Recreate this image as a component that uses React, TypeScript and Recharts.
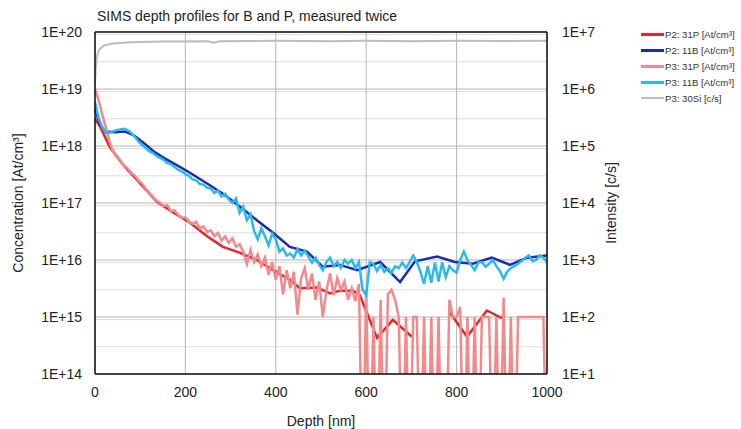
import React from 'react';
import { LineChart, Line, XAxis, YAxis, CartesianGrid, ReferenceLine, Legend } from 'recharts';

// axis ticks
const DEPTH_TICKS = [0, 200, 400, 600, 800, 1000];
const CONC_TICKS = [1e14, 1e15, 1e16, 1e17, 1e18, 1e19, 1e20];
const INT_TICKS = [1e1, 1e2, 1e3, 1e4, 1e5, 1e6, 1e7];

// P2 measurement (coarser sampling), null = no value
const p2PDepth = [0, 11, 33, 62, 100, 137, 173, 210, 248, 283, 321, 358, 394, 431, 453, 491, 520, 542, 571, 586, 624, 659, 701, 743, 785, 823, 867, 900, 940];
const p2PConc = [3.0e18, 2.2e18, 9.5e17, 4.7e17, 2.2e17, 1.05e17, 6.8e16, 4.5e16, 2.6e16, 1.7e16, 1.33e16, 1.0e16, 6.6e15, 4.5e15, 3.2e15, 3.3e15, 2.6e15, 2.9e15, 2.9e15, 2.4e15, 4.3e14, 8.9e14, 4.5e14, null, 1.2e15, 4.5e14, 1.3e15, 9.6e14, null];

const p2BDepth = [0, 11, 22, 44, 66, 88, 110, 132, 155, 177, 210, 248, 283, 321, 358, 394, 431, 469, 504, 542, 580, 631, 675, 708, 757, 796, 836, 878, 918, 956, 1000];
const p2BConc = [4.5e18, 2.4e18, 1.8e18, 1.75e18, 1.8e18, 1.5e18, 1.1e18, 7.8e17, 6.0e17, 4.8e17, 3.4e17, 2.2e17, 1.45e17, 8.6e16, 5.0e16, 3.0e16, 1.7e16, 1.4e16, 7.6e15, 8.2e15, 6.6e15, 9.2e15, 4.1e15, 9.5e15, 1.15e16, 9.2e15, 8.6e15, 1.1e16, 8.2e15, 1.1e16, 1.2e16];

// P3 measurement, one sample every 8 nm from 0 to 1000 nm (0 = no counts)
const P3_STEP = 8;
const p3PConc = [
  1.0e19, 6.4e18, 3.6e18, 2.1e18, 1.2e18, 7.8e17, 6.8e17, 5.5e17, 4.5e17, 4.1e17,
  3.4e17, 3.0e17, 2.5e17, 2.2e17, 1.8e17, 1.5e17, 1.3e17, 1.1e17, 1.0e17, 8.9e16,
  9.2e16, 7.2e16, 7.4e16, 6.2e16, 5.5e16, 5.6e16, 4.7e16, 4.3e16, 4.7e16, 3.6e16,
  3.9e16, 3.1e16, 3.3e16, 2.6e16, 3.0e16, 2.2e16, 2.6e16, 2.0e16, 2.4e16, 1.7e16,
  1.9e16, 1.4e16, 8.5e15, 1.5e16, 9.2e15, 1.25e16, 7.8e15, 1.1e16, 5.5e15, 9.2e15,
  4.5e15, 7.8e15, 2.5e15, 6.6e15, 3.2e15, 6.2e15, 1.1e15, 4.8e15, 7.2e15, 3.0e15,
  5.8e15, 2.0e15, 4.2e15, 1.0e15, 2.9e15, 5.8e15, 2.4e15, 4.8e15, 3.0e15, 4.2e15,
  2.0e15, 3.2e15, 1.9e15, 3.8e15, 0, 3e15, 0, 1e15, 0, 2e15,
  0, 2.5e15, 3e15, 2e15, 1e15, 0, 1e15, 0, 1e15, 1e15,
  0, 1e15, 0, 1e15, 0, 1e15, 0, 0, 2e15, 1e15,
  1e15, 1.5e15, 0, 1e15, 0, 1e15, 0, 1e15, 1e15, 1e15,
  0, 1e15, 0, 2.2e15, 0, 1e15, 0, 1e15, 1e15, 1e15,
  1e15, 1e15, 1e15, 1e15, 1e15, 0,
];
const p3BConc = [
  5.9e18, 3.1e18, 2.1e18, 1.7e18, 1.7e18, 1.8e18, 1.9e18, 1.95e18, 2.0e18, 1.9e18,
  1.7e18, 1.45e18, 1.2e18, 1.05e18, 9.2e17, 8.1e17, 7.5e17, 6.7e17, 6.2e17, 5.7e17,
  5.0e17, 4.8e17, 4.3e17, 3.8e17, 3.6e17, 3.2e17, 3.0e17, 2.6e17, 2.5e17, 2.15e17,
  2.1e17, 1.85e17, 1.8e17, 1.5e17, 1.65e17, 1.3e17, 1.45e17, 1.15e17, 1.0e17, 1.2e17,
  6.7e16, 8.6e16, 5.0e16, 6.4e16, 3.2e16, 2.3e16, 3.6e16, 2.6e16, 1.8e16, 2.9e16,
  2.3e16, 1.4e16, 1.6e16, 1.2e16, 1.3e16, 1.1e16, 1.55e16, 1.2e16, 1.45e16, 1.15e16,
  9.0e15, 1.1e16, 8.2e15, 6.6e15, 9.2e15, 1.1e16, 7.8e15, 9.2e15, 7.2e15, 1.0e16,
  8.6e15, 1.0e16, 7.2e15, 9.2e15, 3.0e15, 2.4e15, 9.2e15, 8.6e15, 6.4e15, 8.2e15,
  6.2e15, 7.2e15, 6.0e15, 7.8e15, 7.2e15, 9.0e15, 7.2e15, 9.2e15, 1.2e16, 9.2e15,
  6.2e15, 3.8e15, 7.8e15, 4.0e15, 9.0e15, 4.2e15, 9.0e15, 5.0e15, 7.8e15, 6.6e15,
  6.0e15, 1.0e16, 1.4e16, 1.0e16, 8.2e15, 6.6e15, 9.0e15, 9.2e15, 7.6e15, 8.6e15,
  1.0e16, 7.8e15, 6.4e15, 4.7e15, 6.2e15, 7.2e15, 7.8e15, 8.6e15, 9.6e15, 1.1e16,
  1.2e16, 9.6e15, 1.0e16, 1.2e16, 1.1e16, 9.2e15,
];

// P3 30Si intensity [c/s], right axis
const p3SiDepth = [0, 2, 5, 10, 20, 40, 80, 150, 250, 262, 275, 400, 520, 600, 700, 800, 900, 1000];
const p3SiCounts = [1.2e6, 2.5e6, 4.0e6, 5.0e6, 5.8e6, 6.3e6, 6.6e6, 6.8e6, 6.9e6, 6.5e6, 6.9e6, 7.0e6, 6.9e6, 7.0e6, 6.9e6, 7.0e6, 6.95e6, 7.0e6];

const RED = '#e4262b';
const BLUE = '#1b2cb0';
const PINK = '#f28a8c';
const CYAN = '#2cb8ea';
const GRAY = '#bdbdbd';

const SERIES = [
  { name: 'P2: 31P [At/cm³]', color: RED },
  { name: 'P2: 11B [At/cm³]', color: BLUE },
  { name: 'P3: 31P [At/cm³]', color: PINK },
  { name: 'P3: 11B [At/cm³]', color: CYAN },
  { name: 'P3: 30Si [c/s]', color: GRAY },
];

// zero counts can't sit on a log axis: push them below the plot, they get clipped
const BELOW = 1e12;

const p2P = p2PDepth.map((d, i) => ({ depth: d, v: p2PConc[i] }));
const p2B = p2BDepth.map((d, i) => ({ depth: d, v: p2BConc[i] }));
const p3P = p3PConc.map((v, i) => ({ depth: i * P3_STEP, v: v === 0 ? BELOW : v }));
const p3B = p3BConc.map((v, i) => ({ depth: i * P3_STEP, v }));
const p3Si = p3SiDepth.map((d, i) => ({ depth: d, v: p3SiCounts[i] }));

const MINOR = CONC_TICKS.slice(0, -1).flatMap((d) => [2, 3, 4, 5, 6, 7, 8, 9].map((k) => k * d));

const FONT = '"Liberation Sans", Arial, sans-serif';
const TXT = '#222';

const sci = (v: number) => `1E+${Math.round(Math.log10(v))}`;

const LegendBox = () => (
  <div style={{ fontFamily: FONT, fontSize: 9.6, color: '#333' }}>
    {SERIES.map((s) => (
      <div key={s.name} style={{ display: 'flex', alignItems: 'center', height: 15.8 }}>
        <span style={{ display: 'inline-block', width: 23, height: s.color === GRAY ? 2 : 3, background: s.color, marginRight: 1 }} />
        <span>{s.name}</span>
      </div>
    ))}
  </div>
);

export default function App() {
  return (
    <div style={{ position: 'absolute', left: 0, top: 0, width: 741, height: 429, background: '#fff', fontFamily: FONT }}>
      <div style={{ position: 'absolute', left: 97, top: 8, fontSize: 14, color: TXT, whiteSpace: 'nowrap' }}>
        SIMS depth profiles for B and P, measured twice
      </div>
      <LineChart width={741} height={429} margin={{ top: 32, right: 24, bottom: 5, left: 10 }}>
        <CartesianGrid yAxisId="left" vertical={false} horizontalValues={MINOR} stroke="#dcdcdc" strokeWidth={1} />
        <CartesianGrid yAxisId="left" horizontalValues={CONC_TICKS} stroke="#b5b5b5" strokeWidth={1} />
        <ReferenceLine yAxisId="left" y={1e20} stroke="#111" strokeWidth={1.5} />
        <XAxis
          dataKey="depth"
          type="number"
          domain={[0, 1000]}
          ticks={DEPTH_TICKS}
          height={50}
          axisLine={{ stroke: '#111', strokeWidth: 1.5 }}
          tickLine={false}
          tickMargin={7}
          tick={{ fill: TXT, fontSize: 14, fontFamily: FONT }}
          label={{
            content: ({ viewBox }: any) => (
              <text x={viewBox.x + viewBox.width / 2} y={426} textAnchor="middle" fill={TXT} fontSize={14} fontFamily={FONT}>
                Depth [nm]
              </text>
            ),
          }}
        />
        <YAxis
          yAxisId="left"
          scale="log"
          domain={[1e14, 1e20]}
          ticks={CONC_TICKS}
          allowDataOverflow
          width={85}
          axisLine={{ stroke: '#111', strokeWidth: 1.5 }}
          tickLine={false}
          tickMargin={7}
          tickFormatter={sci}
          tick={{ fill: TXT, fontSize: 14, fontFamily: FONT }}
          label={{
            content: ({ viewBox }: any) => {
              const cy = viewBox.y + viewBox.height / 2;
              return (
                <text x={18} y={cy} transform={`rotate(-90, 18, ${cy})`} textAnchor="middle" dominantBaseline="central" fill={TXT} fontSize={14} fontFamily={FONT}>
                  Concentration [At/cm³]
                </text>
              );
            },
          }}
        />
        <YAxis
          yAxisId="right"
          orientation="right"
          scale="log"
          domain={[1e1, 1e7]}
          ticks={INT_TICKS}
          allowDataOverflow
          width={70}
          axisLine={{ stroke: '#111', strokeWidth: 1.5 }}
          tickLine={false}
          tickMargin={9}
          tickFormatter={sci}
          tick={{ fill: TXT, fontSize: 14, fontFamily: FONT }}
          label={{
            content: ({ viewBox }: any) => {
              const cy = viewBox.y + viewBox.height / 2;
              const cx = 611;
              return (
                <text x={cx} y={cy} transform={`rotate(-90, ${cx}, ${cy})`} textAnchor="middle" dominantBaseline="central" fill={TXT} fontSize={14} fontFamily={FONT}>
                  Intensity [c/s]
                </text>
              );
            },
          }}
        />
        <Legend layout="vertical" align="right" verticalAlign="top" wrapperStyle={{ top: 27, right: 0, width: 100 }} content={() => <LegendBox />} />
        <Line yAxisId="left" data={p2P} dataKey="v" name={SERIES[0].name} stroke={RED} strokeWidth={2.5} dot={false} isAnimationActive={false} />
        <Line yAxisId="left" data={p2B} dataKey="v" name={SERIES[1].name} stroke={BLUE} strokeWidth={2.5} dot={false} isAnimationActive={false} />
        <Line yAxisId="left" data={p3P} dataKey="v" name={SERIES[2].name} stroke={PINK} strokeWidth={2.5} dot={false} isAnimationActive={false} />
        <Line yAxisId="left" data={p3B} dataKey="v" name={SERIES[3].name} stroke={CYAN} strokeWidth={2.5} dot={false} isAnimationActive={false} />
        <Line yAxisId="right" data={p3Si} dataKey="v" name={SERIES[4].name} stroke={GRAY} strokeWidth={2} dot={false} isAnimationActive={false} />
      </LineChart>
    </div>
  );
}
